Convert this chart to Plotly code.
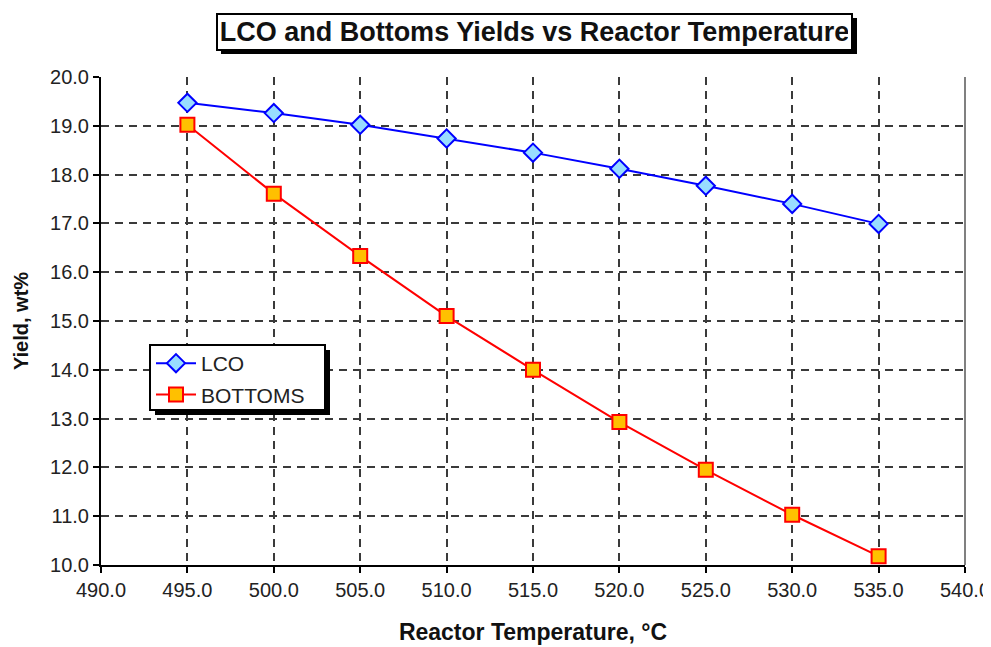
import plotly.graph_objects as go

temps = [495.0, 500.0, 505.0, 510.0, 515.0, 520.0, 525.0, 530.0, 535.0]
lco = [19.47, 19.26, 19.02, 18.74, 18.45, 18.12, 17.77, 17.40, 16.99]
bottoms = [19.02, 17.61, 16.33, 15.10, 14.00, 12.93, 11.95, 11.03, 10.18]

title_text = "LCO and Bottoms Yields vs Reactor Temperature"
x_title = "Reactor Temperature, °C"
y_title = "Yield, wt%"

OFF = 8  # page body margin
W, H = 991 - OFF, 647 - OFF
# plot area in screen pixels: x 101..965, y 77..565
L, R, T, B = 101 - OFF, W - (965 - OFF), 77 - OFF, H - (565 - OFF)
pw, ph = W - L - R, H - T - B
FONT = "Liberation Sans, Arial, sans-serif"

def px(x):
    return (x - OFF - L) / pw

def py(y):
    return (H - B - (y - OFF)) / ph

fig = go.Figure()
fig.add_trace(go.Scatter(
    x=temps, y=lco, name="LCO", mode="lines+markers", legendgroup="a",
    line=dict(color="#0000ff", width=2),
    marker=dict(symbol="diamond", size=14, color="#99ddff",
                line=dict(color="#0000ff", width=2)),
))
fig.add_trace(go.Scatter(
    x=temps, y=bottoms, name="BOTTOMS", mode="lines+markers", legendgroup="b",
    line=dict(color="#ff0000", width=2),
    marker=dict(symbol="square", size=14, color="#ffc000",
                line=dict(color="#ff0000", width=2)),
))

axis_common = dict(
    showline=True, linecolor="black", linewidth=2,
    ticks="outside", ticklen=6, tickwidth=2, tickcolor="black",
    showgrid=True, gridcolor="#3a3a3a", gridwidth=2, griddash="8px,6px",
    zeroline=False, tickformat=".1f", automargin=False,
    tickfont=dict(family=FONT, size=20, color="#222222"),
)

fig.update_layout(
    width=W, height=H,
    margin=dict(l=L, r=R, t=T, b=B, autoexpand=False),
    paper_bgcolor="white", plot_bgcolor="white",
    showlegend=True,
    legend=dict(
        x=px(151), y=py(343), xanchor="left", yanchor="top",
        bgcolor="rgba(0,0,0,0)", borderwidth=0,
        font=dict(family=FONT, size=21, color="#222222"),
        itemwidth=40, tracegroupgap=1,
    ),
    xaxis=dict(range=[490, 540], dtick=5, tick0=490,
               title=dict(text="<b>" + x_title + "</b>", standoff=24,
                          font=dict(family=FONT, size=23, color="#111111")),
               **axis_common),
    yaxis=dict(range=[10, 20], dtick=1, tick0=10,
               title=dict(text="<b>" + y_title + "</b>", standoff=16,
                          font=dict(family=FONT, size=20, color="#111111")),
               **axis_common),
)

# right border
fig.add_shape(type="line", xref="paper", yref="paper", x0=1, x1=1, y0=0, y1=1,
              line=dict(color="#808080", width=2))

# title shadow and box
fig.add_shape(type="rect", xref="paper", yref="paper",
              x0=px(221), x1=px(857), y0=py(54), y1=py(18),
              fillcolor="black", line=dict(width=0), layer="above")
fig.add_annotation(
    xref="paper", yref="paper", x=px(534.5), y=py(32), xanchor="center", yanchor="middle",
    text="<b>" + title_text + "</b>", showarrow=False,
    font=dict(family=FONT, size=27, color="#111111"),
    bgcolor="white", bordercolor="black", borderwidth=2, borderpad=3,
    width=627, height=28,
)

# legend shadow and box
fig.add_shape(type="rect", xref="paper", yref="paper",
              x0=px(155), x1=px(330), y0=py(415), y1=py(350),
              fillcolor="black", line=dict(width=0), layer="above")
fig.add_shape(type="rect", xref="paper", yref="paper",
              x0=px(150), x1=px(325), y0=py(410), y1=py(345),
              fillcolor="white", line=dict(color="black", width=2), layer="above")

fig.write_html("out.html")
